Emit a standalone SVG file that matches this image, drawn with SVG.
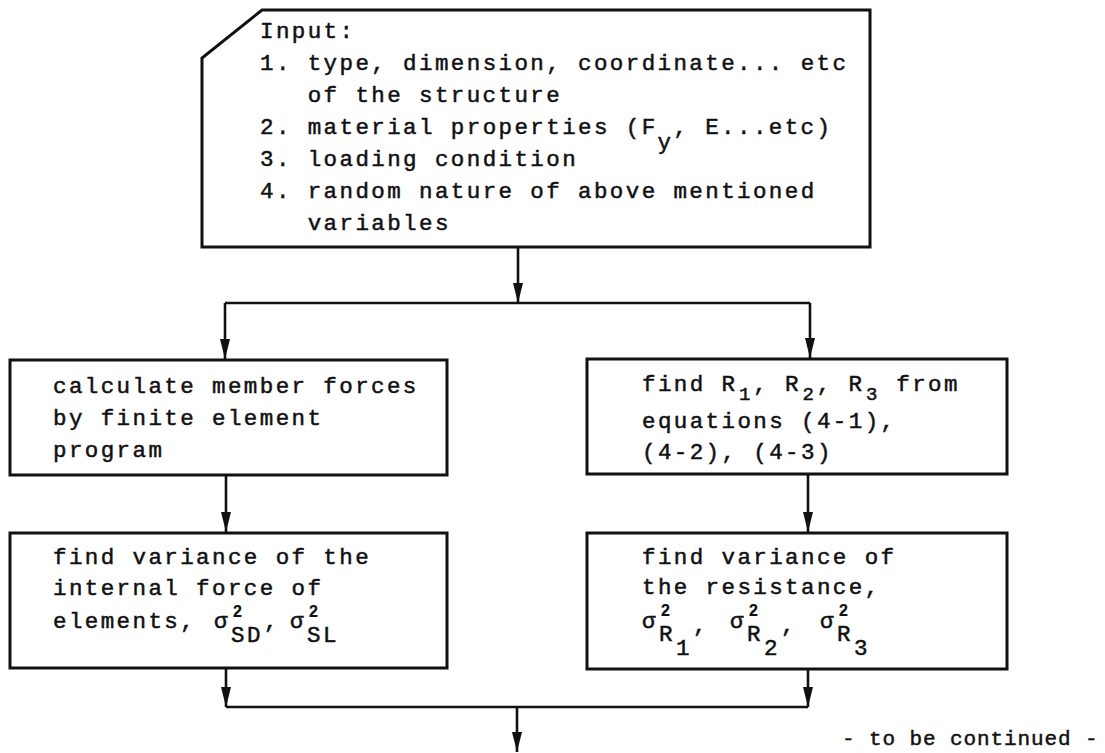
<svg xmlns="http://www.w3.org/2000/svg" width="1105" height="753" viewBox="0 0 1105 753">
<defs>
<style>
.box{fill:#fff;stroke:#111;stroke-width:3}
.ln{fill:none;stroke:#111;stroke-width:2.6}
.t{font-family:"Liberation Mono","Courier New",monospace;font-size:22.5px;letter-spacing:2.4px;fill:#111;stroke:#111;stroke-width:0.5}
.sb{font-size:19px;letter-spacing:0}
.sp{font-family:"Liberation Sans",Arial,sans-serif;font-size:16px;font-weight:bold;letter-spacing:0;stroke-width:0.2}
.c{font-family:"Liberation Mono","Courier New",monospace;font-size:21px;letter-spacing:0.9px;fill:#111;stroke:#111;stroke-width:0.45}
</style>
<marker id="ah" viewBox="0 0 20 10" refX="20" refY="5" markerWidth="20" markerHeight="10" markerUnits="userSpaceOnUse" orient="auto">
<path d="M0,0 L20,5 L0,10 Z" fill="#111"/>
</marker>
</defs>
<rect width="1105" height="753" fill="#fff"/>

<g id="input">
<path class="box" d="M262,10 L870,10 L870,247 L202,247 L202,58 Z"/>
<text class="t" x="260" y="38">Input:</text>
<text class="t" x="260" y="70">1. type, dimension, coordinate... etc</text>
<text class="t" x="307.7" y="102">of the structure</text>
<text class="t" x="260" y="134">2. material properties (F<tspan x="657.5" y="149">y</tspan><tspan x="673.4" y="134">, E...etc)</tspan></text>
<text class="t" x="260" y="166">3. loading condition</text>
<text class="t" x="260" y="198">4. random nature of above mentioned</text>
<text class="t" x="307.7" y="230">variables</text>
</g>

<g id="member-forces">
<rect class="box" x="10" y="360" width="437" height="115"/>
<text class="t" x="53" y="393">calculate member forces</text>
<text class="t" x="53" y="425">by finite element</text>
<text class="t" x="53" y="457">program</text>
</g>

<g id="find-R">
<rect class="box" x="587" y="359" width="420" height="115"/>
<text class="t" x="642" y="391">find R<tspan class="sb" x="739" y="400">1</tspan><tspan x="753.3" y="391">, R</tspan><tspan class="sb" x="802.5" y="400">2</tspan><tspan x="816.8" y="391">, R</tspan><tspan class="sb" x="866" y="400">3</tspan><tspan x="896.3" y="391">from</tspan></text>
<text class="t" x="642" y="428">equations (4-1),</text>
<text class="t" x="642" y="459">(4-2), (4-3)</text>
</g>

<g id="variance-internal">
<rect class="box" x="10" y="533" width="437" height="135"/>
<text class="t" x="53" y="564">find variance of the</text>
<text class="t" x="53" y="595">internal force of</text>
<text class="t" x="53" y="628">elements,<tspan x="214" y="628">σ</tspan><tspan class="sp" x="233" y="617">2</tspan><tspan x="231" y="642">SD</tspan><tspan x="264" y="628">,</tspan><tspan x="290" y="628">σ</tspan><tspan class="sp" x="309" y="617">2</tspan><tspan x="307" y="642">SL</tspan></text>
</g>

<g id="variance-resistance">
<rect class="box" x="587" y="533" width="420" height="136"/>
<text class="t" x="642" y="564">find variance of</text>
<text class="t" x="642" y="594">the resistance,</text>
<text class="t" x="642" y="628">σ<tspan class="sp" x="661" y="616">2</tspan><tspan x="659" y="641">R</tspan><tspan x="676" y="655">1</tspan><tspan x="693" y="632">,</tspan><tspan x="730" y="628">σ</tspan><tspan class="sp" x="749" y="616">2</tspan><tspan x="747" y="641">R</tspan><tspan x="764" y="655">2</tspan><tspan x="781" y="632">,</tspan><tspan x="820" y="628">σ</tspan><tspan class="sp" x="839" y="616">2</tspan><tspan x="837" y="641">R</tspan><tspan x="854" y="655">3</tspan></text>
</g>

<g id="connectors">
<path class="ln" d="M518,247 V303" marker-end="url(#ah)"/>
<path class="ln" d="M225,303 H810"/>
<path class="ln" d="M225,303 V359" marker-end="url(#ah)"/>
<path class="ln" d="M810,303 V358" marker-end="url(#ah)"/>
<path class="ln" d="M226,475 V532" marker-end="url(#ah)"/>
<path class="ln" d="M808,474 V532" marker-end="url(#ah)"/>
<path class="ln" d="M226,668 V707" marker-end="url(#ah)"/>
<path class="ln" d="M808,669 V707" marker-end="url(#ah)"/>
<path class="ln" d="M226,707 H808"/>
<path class="ln" d="M517,707 V752" marker-end="url(#ah)"/>
</g>

<text class="c" x="842" y="745">- to be continued -</text>
</svg>
